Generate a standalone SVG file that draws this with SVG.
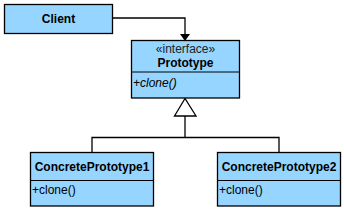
<svg xmlns="http://www.w3.org/2000/svg" width="344" height="213" viewBox="0 0 344 213">
<style>
.box{fill:#95D5FF;stroke:#000;stroke-width:1.3}
.div{stroke:#000;stroke-width:1}
.ln{fill:none;stroke:#000;stroke-width:1.3}
text{font-family:"Liberation Sans",Arial,sans-serif;font-size:12px;fill:#000}
.b{font-weight:bold;text-anchor:middle}
.c{text-anchor:middle;fill:#222}
.i{font-style:italic}
</style>
<rect width="344" height="213" fill="#fff"/>
<g id="connectors">
<polyline class="ln" points="112,18 185,18 185,35"/>
<polygon points="180,34 190,34 185,41" fill="#000"/>
<polyline class="ln" points="92,153 92,137.5 279,137.5 279,153"/>
<line class="ln" x1="185" y1="116" x2="185" y2="137.5"/>
<polygon points="185,98.5 174.5,116 196,116" fill="#fff" stroke="#000" stroke-width="1.3"/>
</g>
<g id="client">
<rect class="box" x="4.5" y="4.5" width="108" height="29"/>
<text class="b" x="58.5" y="23">Client</text>
</g>
<g id="prototype">
<rect class="box" x="131.5" y="40.5" width="108" height="57.5"/>
<line class="div" x1="131.5" y1="72" x2="239.5" y2="72"/>
<text class="c" x="185.5" y="53">«interface»</text>
<text class="b" x="185.5" y="67">Prototype</text>
<text class="i" x="133" y="87">+clone()</text>
</g>
<g id="concrete1">
<rect class="box" x="30.5" y="152.5" width="123" height="53.5"/>
<line class="div" x1="30.5" y1="180.5" x2="153.5" y2="180.5"/>
<text class="b" x="92" y="171">ConcretePrototype1</text>
<text x="32" y="194">+clone()</text>
</g>
<g id="concrete2">
<rect class="box" x="217.5" y="152.5" width="123" height="53.5"/>
<line class="div" x1="217.5" y1="180.5" x2="340.5" y2="180.5"/>
<text class="b" x="279" y="171">ConcretePrototype2</text>
<text x="219" y="194">+clone()</text>
</g>
</svg>
